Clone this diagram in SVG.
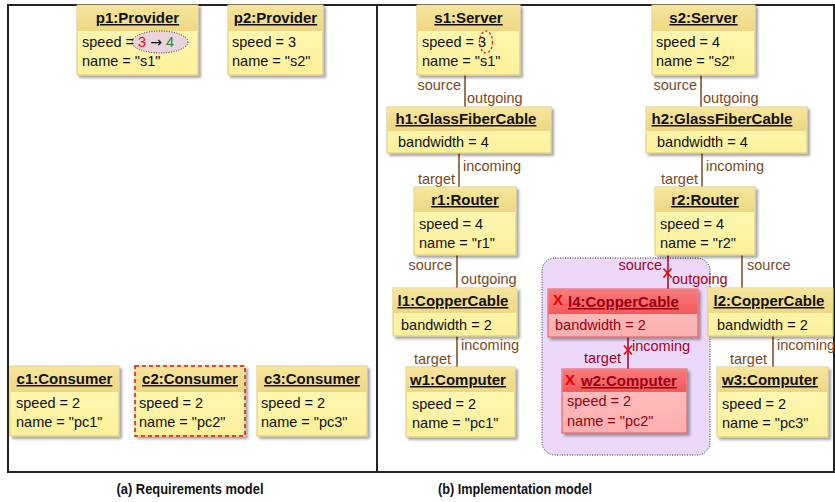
<svg xmlns="http://www.w3.org/2000/svg" width="835" height="502" viewBox="0 0 835 502">
<defs>
<linearGradient id="hdr" x1="0" y1="0" x2="0" y2="1"><stop offset="0" stop-color="#f6e69c"/><stop offset="1" stop-color="#efd783"/></linearGradient>
<linearGradient id="bdy" x1="0" y1="0" x2="0" y2="1"><stop offset="0" stop-color="#fffbbd"/><stop offset="1" stop-color="#fcf09a"/></linearGradient>
<linearGradient id="rhdr" x1="0" y1="0" x2="0" y2="1"><stop offset="0" stop-color="#f87a7a"/><stop offset="1" stop-color="#f25a5a"/></linearGradient>
<linearGradient id="rbdy" x1="0" y1="0" x2="0" y2="1"><stop offset="0" stop-color="#ffc4c4"/><stop offset="1" stop-color="#ffaeae"/></linearGradient>
<filter id="sh" x="-10%" y="-10%" width="130%" height="140%"><feDropShadow dx="2.5" dy="2.5" stdDeviation="1.2" flood-color="#000" flood-opacity="0.35"/></filter>
</defs>
<style>
text{font-family:"Liberation Sans",Arial,sans-serif}
.box{fill:url(#bdy);stroke:#d9c67e;stroke-width:1;filter:url(#sh)}
.hd{fill:url(#hdr)}
.rbox{fill:url(#rbdy);stroke:#e05a5a;stroke-width:1;filter:url(#sh)}
.rhd{fill:url(#rhdr)}
.t{font-size:15px;font-weight:bold;text-decoration:underline;fill:#111;text-anchor:middle}
.a{font-size:14.5px;fill:#111}
.rt{font-size:15px;font-weight:bold;text-decoration:underline;fill:#9a0010}
.ra{font-size:14.5px;fill:#9a0010}
.ln{stroke:#7a4a1e;stroke-width:1.5;fill:none}
.rln{stroke:#a8001e;stroke-width:1.5;fill:none}
.lb{font-size:14.5px;fill:#7a4a1e}
.rlb{font-size:14.5px;fill:#a8001e}
.x{stroke:#e80000;stroke-width:1.6;fill:none}
.xt{font-size:15px;font-weight:bold;fill:#e80000}
.cap{font-size:14px;font-weight:bold;fill:#111;text-anchor:middle}
</style>
<rect x="0" y="0" width="835" height="502" fill="#fff"/>
<g id="frame" fill="none" stroke="#222" stroke-width="2">
<rect x="8" y="5" width="826" height="467"/>
<line x1="377" y1="5" x2="377" y2="472"/>
</g>
<rect id="region" x="542" y="258" width="168" height="197" rx="13" fill="#ecd9fa" stroke="#333" stroke-width="1" stroke-dasharray="1 1.5"/>
<g id="connectors">
<line class="ln" x1="465" y1="75" x2="465" y2="107"/>
<text class="lb" x="461" y="90" text-anchor="end">source</text>
<text class="lb" x="467" y="103">outgoing</text>
<line class="ln" x1="459" y1="153" x2="459" y2="187"/>
<text class="lb" x="463" y="171">incoming</text>
<text class="lb" x="455" y="184" text-anchor="end">target</text>
<line class="ln" x1="701" y1="75" x2="701" y2="107"/>
<text class="lb" x="697" y="90" text-anchor="end">source</text>
<text class="lb" x="703" y="103">outgoing</text>
<line class="ln" x1="702" y1="153" x2="702" y2="187"/>
<text class="lb" x="706" y="171">incoming</text>
<text class="lb" x="698" y="184" text-anchor="end">target</text>
<line class="ln" x1="457" y1="255" x2="457" y2="288"/>
<text class="lb" x="452" y="270" text-anchor="end">source</text>
<text class="lb" x="461" y="284">outgoing</text>
<line class="ln" x1="457" y1="336" x2="457" y2="367"/>
<text class="lb" x="461" y="350">incoming</text>
<text class="lb" x="451" y="364" text-anchor="end">target</text>
<line class="ln" x1="742" y1="255" x2="742" y2="288"/>
<text class="lb" x="747" y="270">source</text>
<line class="ln" x1="773" y1="336" x2="773" y2="367"/>
<text class="lb" x="777" y="350">incoming</text>
<text class="lb" x="767" y="364" text-anchor="end">target</text>
<line class="rln" x1="668" y1="255" x2="668" y2="289"/>
<text class="rlb" x="662" y="270" text-anchor="end">source</text>
<text class="rlb" x="672" y="284">outgoing</text>
<path class="x" d="M663.5 268.5l8 9M671.5 268.5l-8 9"/>
<line class="rln" x1="628" y1="337" x2="628" y2="369"/>
<text class="rlb" x="632" y="351">incoming</text>
<text class="rlb" x="621" y="363" text-anchor="end">target</text>
<path class="x" d="M624 345.5l8 9M632 345.5l-8 9"/>
</g>
<g id="p1">
<rect class="box" x="77" y="5" width="121" height="70"/><rect class="hd" x="77.5" y="5.5" width="120" height="25.5"/>
<text class="t" x="137.5" y="23">p1:Provider</text>
<ellipse cx="160" cy="42" rx="28" ry="11" fill="#e9d3dc" stroke="#333" stroke-width="1" stroke-dasharray="1 1.5"/>
<text class="a" x="82" y="47">speed = <tspan fill="#e8101e">3</tspan> <tspan style="font-family:'DejaVu Sans',sans-serif" font-size="14">→</tspan> <tspan fill="#1f8c2a">4</tspan></text>
<text class="a" x="82" y="66">name = "s1"</text>
</g>
<g id="p2">
<rect class="box" x="228" y="5" width="95" height="70"/><rect class="hd" x="228.5" y="5.5" width="94" height="25.5"/>
<text class="t" x="275.5" y="23">p2:Provider</text>
<text class="a" x="232" y="47">speed = 3</text>
<text class="a" x="232" y="66">name = "s2"</text>
</g>
<g id="c1">
<rect class="box" x="10" y="366" width="109" height="70"/><rect class="hd" x="10.5" y="366.5" width="108" height="25.5"/>
<text class="t" x="64.5" y="384">c1:Consumer</text>
<text class="a" x="16" y="408">speed = 2</text>
<text class="a" x="16" y="427">name = "pc1"</text>
</g>
<g id="c2">
<rect class="box" x="135" y="366" width="110" height="70"/><rect class="hd" x="135.5" y="366.5" width="109" height="25.5"/>
<rect x="135" y="366" width="110" height="70" fill="none" stroke="#e81010" stroke-width="1.5" stroke-dasharray="4 3"/>
<text class="t" x="190" y="384">c2:Consumer</text>
<text class="a" x="139" y="408">speed = 2</text>
<text class="a" x="139" y="427">name = "pc2"</text>
</g>
<g id="c3">
<rect class="box" x="257" y="366" width="110" height="70"/><rect class="hd" x="257.5" y="366.5" width="109" height="25.5"/>
<text class="t" x="312" y="384">c3:Consumer</text>
<text class="a" x="261" y="408">speed = 2</text>
<text class="a" x="261" y="427">name = "pc3"</text>
</g>
<g id="s1">
<rect class="box" x="417" y="5" width="103" height="70"/><rect class="hd" x="417.5" y="5.5" width="102" height="25.5"/>
<text class="t" x="468.5" y="23">s1:Server</text>
<text class="a" x="422" y="47">speed = 3</text>
<ellipse cx="486" cy="42" rx="6.5" ry="11" fill="none" stroke="#e81010" stroke-width="1.2" stroke-dasharray="2.5 2"/>
<text class="a" x="422" y="66">name = "s1"</text>
</g>
<g id="s2">
<rect class="box" x="652" y="5" width="103" height="70"/><rect class="hd" x="652.5" y="5.5" width="102" height="25.5"/>
<text class="t" x="703.5" y="23">s2:Server</text>
<text class="a" x="656" y="47">speed = 4</text>
<text class="a" x="656" y="66">name = "s2"</text>
</g>
<g id="h1">
<rect class="box" x="387" y="107" width="164" height="46"/><rect class="hd" x="387.5" y="107.5" width="163" height="23.5"/>
<text class="t" x="466" y="124">h1:GlassFiberCable</text>
<text class="a" x="398" y="147">bandwidth = 4</text>
</g>
<g id="h2">
<rect class="box" x="646" y="107" width="161" height="46"/><rect class="hd" x="646.5" y="107.5" width="160" height="23.5"/>
<text class="t" x="722" y="124">h2:GlassFiberCable</text>
<text class="a" x="657" y="147">bandwidth = 4</text>
</g>
<g id="r1">
<rect class="box" x="414" y="187" width="102" height="68"/><rect class="hd" x="414.5" y="187.5" width="101" height="24.5"/>
<text class="t" x="465" y="205">r1:Router</text>
<text class="a" x="419" y="229">speed = 4</text>
<text class="a" x="419" y="248">name = "r1"</text>
</g>
<g id="r2">
<rect class="box" x="655" y="187" width="100" height="68"/><rect class="hd" x="655.5" y="187.5" width="99" height="24.5"/>
<text class="t" x="705" y="205">r2:Router</text>
<text class="a" x="660" y="229">speed = 4</text>
<text class="a" x="660" y="248">name = "r2"</text>
</g>
<g id="l1">
<rect class="box" x="393" y="288" width="124" height="48"/><rect class="hd" x="393.5" y="288.5" width="123" height="24.5"/>
<text class="t" x="453" y="306">l1:CopperCable</text>
<text class="a" x="401" y="330">bandwidth = 2</text>
</g>
<g id="l2">
<rect class="box" x="708" y="288" width="125" height="48"/><rect class="hd" x="708.5" y="288.5" width="124" height="24.5"/>
<text class="t" x="769" y="306">l2:CopperCable</text>
<text class="a" x="717" y="330">bandwidth = 2</text>
</g>
<g id="l4">
<rect class="rbox" x="548" y="289" width="150" height="48"/><rect class="rhd" x="548.5" y="289.5" width="149" height="24.5"/>
<text class="xt" x="553" y="305">X</text>
<text class="rt" x="568" y="307">l4:CopperCable</text>
<text class="ra" x="555" y="330">bandwidth = 2</text>
</g>
<g id="w1">
<rect class="box" x="406" y="367" width="109" height="70"/><rect class="hd" x="406.5" y="367.5" width="108" height="24.5"/>
<text class="t" x="458" y="385">w1:Computer</text>
<text class="a" x="412" y="409">speed = 2</text>
<text class="a" x="412" y="428">name = "pc1"</text>
</g>
<g id="w2">
<rect class="rbox" x="562" y="369" width="125" height="64"/><rect class="rhd" x="562.5" y="369.5" width="124" height="22.5"/>
<text class="xt" x="565" y="385">X</text>
<text class="rt" x="581" y="386">w2:Computer</text>
<text class="ra" x="567" y="406">speed = 2</text>
<text class="ra" x="567" y="426">name = "pc2"</text>
</g>
<g id="w3">
<rect class="box" x="717" y="367" width="111" height="70"/><rect class="hd" x="717.5" y="367.5" width="110" height="24.5"/>
<text class="t" x="770" y="385">w3:Computer</text>
<text class="a" x="722" y="409">speed = 2</text>
<text class="a" x="722" y="428">name = "pc3"</text>
</g>
<g id="captions">
<text class="cap" x="190" y="494" textLength="147" lengthAdjust="spacingAndGlyphs">(a) Requirements model</text>
<text class="cap" x="515" y="494" textLength="154" lengthAdjust="spacingAndGlyphs">(b) Implementation model</text>
</g>
</svg>
